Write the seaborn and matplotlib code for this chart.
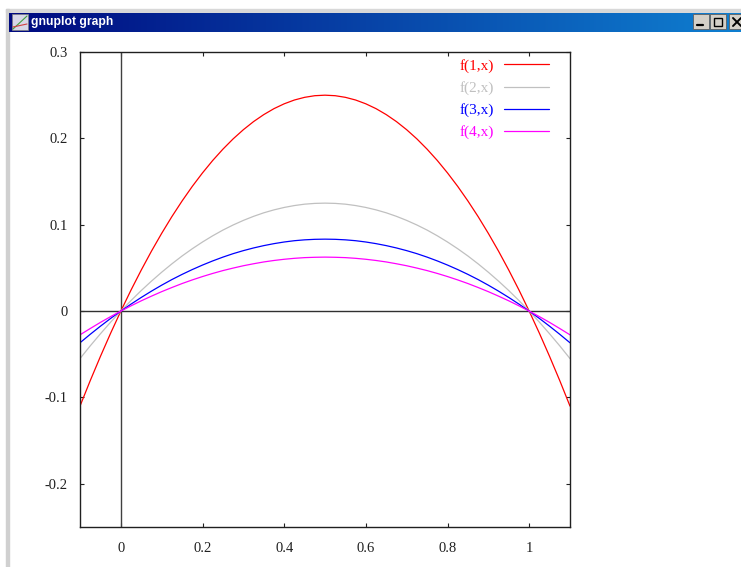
import matplotlib
matplotlib.use("Agg")
import matplotlib.pyplot as plt
from matplotlib.colors import LinearSegmentedColormap
from matplotlib.patches import Rectangle
import numpy as np
import pandas as pd
import seaborn as sns

x_vals = [-0.1, -0.075, -0.05, -0.025, 0, 0.025, 0.05, 0.075, 0.1, 0.125, 0.15, 0.175, 0.2,
          0.225, 0.25, 0.275, 0.3, 0.325, 0.35, 0.375, 0.4, 0.425, 0.45, 0.475, 0.5,
          0.525, 0.55, 0.575, 0.6, 0.625, 0.65, 0.675, 0.7, 0.725, 0.75, 0.775, 0.8,
          0.825, 0.85, 0.875, 0.9, 0.925, 0.95, 0.975, 1, 1.025, 1.05, 1.075, 1.1]
f1 = [-0.11, -0.0806, -0.0525, -0.0256, 0, 0.0244, 0.0475, 0.0694, 0.09, 0.1094, 0.1275, 0.1444, 0.16,
      0.1744, 0.1875, 0.1994, 0.21, 0.2194, 0.2275, 0.2344, 0.24, 0.2444, 0.2475, 0.2494, 0.25,
      0.2494, 0.2475, 0.2444, 0.24, 0.2344, 0.2275, 0.2194, 0.21, 0.1994, 0.1875, 0.1744, 0.16,
      0.1444, 0.1275, 0.1094, 0.09, 0.0694, 0.0475, 0.0244, 0, -0.0256, -0.0525, -0.0806, -0.11]
f2 = [-0.055, -0.0403, -0.0263, -0.0128, 0, 0.0122, 0.0238, 0.0347, 0.045, 0.0547, 0.0638, 0.0722, 0.08,
      0.0872, 0.0938, 0.0997, 0.105, 0.1097, 0.1138, 0.1172, 0.12, 0.1222, 0.1238, 0.1247, 0.125,
      0.1247, 0.1238, 0.1222, 0.12, 0.1172, 0.1138, 0.1097, 0.105, 0.0997, 0.0938, 0.0872, 0.08,
      0.0722, 0.0638, 0.0547, 0.045, 0.0347, 0.0238, 0.0122, 0, -0.0128, -0.0263, -0.0403, -0.055]
f3 = [-0.0367, -0.0269, -0.0175, -0.0085, 0, 0.0081, 0.0158, 0.0231, 0.03, 0.0365, 0.0425, 0.0481, 0.0533,
      0.0581, 0.0625, 0.0665, 0.07, 0.0731, 0.0758, 0.0781, 0.08, 0.0815, 0.0825, 0.0831, 0.0833,
      0.0831, 0.0825, 0.0815, 0.08, 0.0781, 0.0758, 0.0731, 0.07, 0.0665, 0.0625, 0.0581, 0.0533,
      0.0481, 0.0425, 0.0365, 0.03, 0.0231, 0.0158, 0.0081, 0, -0.0085, -0.0175, -0.0269, -0.0367]
f4 = [-0.0275, -0.0202, -0.0131, -0.0064, 0, 0.0061, 0.0119, 0.0173, 0.0225, 0.0273, 0.0319, 0.0361, 0.04,
      0.0436, 0.0469, 0.0498, 0.0525, 0.0548, 0.0569, 0.0586, 0.06, 0.0611, 0.0619, 0.0623, 0.0625,
      0.0623, 0.0619, 0.0611, 0.06, 0.0586, 0.0569, 0.0548, 0.0525, 0.0498, 0.0469, 0.0436, 0.04,
      0.0361, 0.0319, 0.0273, 0.0225, 0.0173, 0.0119, 0.0061, 0, -0.0064, -0.0131, -0.0202, -0.0275]
series_names = ["f(1,x)", "f(2,x)", "f(3,x)", "f(4,x)"]
series_colors = ["#ff0000", "#c0c0c0", "#0000ff", "#ff00ff"]
x_ticks = [0, 0.2, 0.4, 0.6, 0.8, 1]
x_tick_labels = ["0", "0.2", "0.4", "0.6", "0.8", "1"]
y_ticks = [-0.2, -0.1, 0, 0.1, 0.2, 0.3]
y_tick_labels = ["-0.2", "-0.1", "0", "0.1", "0.2", "0.3"]
W, H = 741, 567


def draw_window(fig):
    # window frame around the plot, in pixel coordinates
    bg = fig.add_axes([0, 0, 1, 1], zorder=0)
    bg.set_xlim(0, W)
    bg.set_ylim(H, 0)
    bg.axis("off")
    bg.add_patch(Rectangle((6, 9), 735, 3, color="#d8d8d8"))
    bg.add_patch(Rectangle((6, 9), 3, H - 9, color="#d0d0d0"))
    cmap = LinearSegmentedColormap.from_list("title", ["#000a80", "#0f7fd0"])
    bg.imshow(np.linspace(0, 1, 256).reshape(1, -1), cmap=cmap, aspect="auto",
              extent=[9, W, 32, 13], zorder=1)
    bg.set_xlim(0, W)
    bg.set_ylim(H, 0)
    bg.text(31, 22.5, "gnuplot graph", color="white", fontsize=8.7, fontweight="bold",
            family="Liberation Sans", va="center", ha="left", zorder=3)

    # title bar icon
    bg.add_patch(Rectangle((12, 14), 16, 16, facecolor="#d8d8e8", edgecolor="#808080", lw=0.5, zorder=2))
    bg.plot([13, 27], [29, 16], color="#40a040", lw=0.8, zorder=3)
    bg.plot([13, 27], [27, 24], color="#d04040", lw=0.8, zorder=3)

    # window buttons
    for left, width in [(693, 16), (710, 16), (729, 14)]:
        bg.add_patch(Rectangle((left, 14), width, 15, facecolor="#d4d0c8",
                               edgecolor="#606060", lw=0.6, zorder=2))
    bg.plot([697, 703], [25, 25], color="black", lw=1.6, zorder=3)
    bg.add_patch(Rectangle((714, 18), 8, 8, fill=False, edgecolor="black", lw=1, zorder=3))
    bg.plot([733, 741], [18, 26], color="black", lw=1.4, zorder=3)
    bg.plot([733, 741], [26, 18], color="black", lw=1.4, zorder=3)


def plot():
    sns.set_style("white")
    plt.rcParams["font.family"] = ["Liberation Serif", "DejaVu Serif"]

    df = pd.DataFrame({"x": x_vals, "f(1,x)": f1, "f(2,x)": f2, "f(3,x)": f3, "f(4,x)": f4})
    df = df.melt(id_vars="x", var_name="series", value_name="y")

    fig = plt.figure(figsize=(W / 100, H / 100), dpi=100, facecolor="white")
    draw_window(fig)

    ax = fig.add_axes([80 / W, 1 - 527 / H, 490 / W, 475 / H], zorder=1)
    ax.patch.set_alpha(0)
    ax.axhline(0, color="#303030", lw=1, zorder=1)
    ax.axvline(0, color="#404040", lw=1, zorder=1)
    sns.lineplot(data=df, x="x", y="y", hue="series", hue_order=series_names,
                 palette=dict(zip(series_names, series_colors)), linewidth=0.9,
                 errorbar=None, ax=ax, zorder=2)

    ax.set_xlim(-0.1, 1.1)
    ax.set_ylim(-0.25, 0.3)
    ax.set_xticks(x_ticks, x_tick_labels)
    ax.set_yticks(y_ticks, y_tick_labels)
    ax.set_xlabel("")
    ax.set_ylabel("")
    ax.tick_params(direction="in", length=3, width=0.8, top=True, right=True,
                   bottom=True, left=True, labelsize=10.5, colors="#202020")
    ax.tick_params(axis="x", pad=11)
    ax.tick_params(axis="y", pad=9)
    for spine in ax.spines.values():
        spine.set_linewidth(1)
        spine.set_color("#202020")

    ax.legend(frameon=False, loc="upper right", bbox_to_anchor=(0.97, 0.998), markerfirst=False,
              labelcolor="linecolor", fontsize=11, handlelength=2.95, handletextpad=0.65,
              labelspacing=0.535, borderaxespad=0.2, borderpad=0.2)
    return fig


def main():
    fig = plot()
    fig.savefig("out.png", dpi=100)


if __name__ == "__main__":
    main()
